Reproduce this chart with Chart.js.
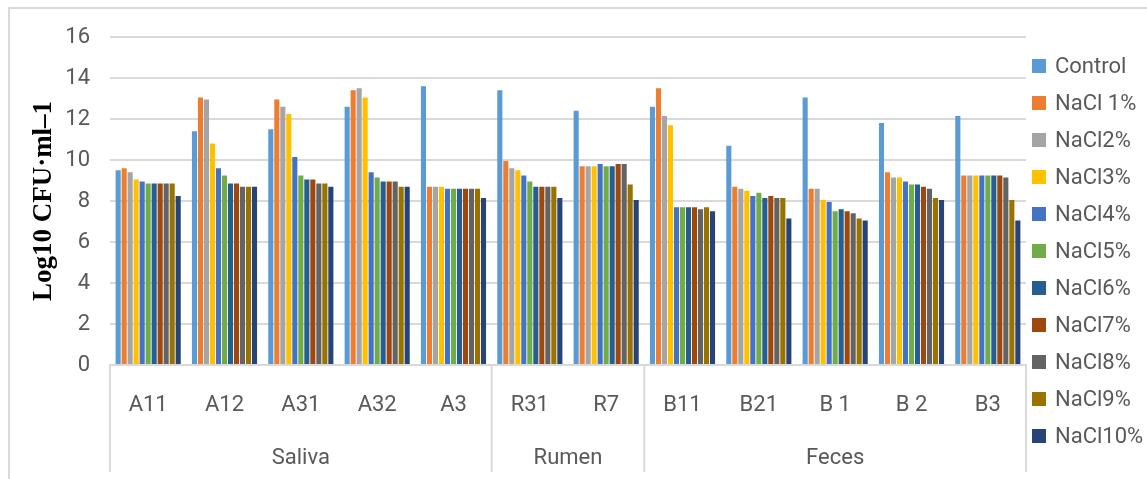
<!DOCTYPE html>
<html>
<head>
<meta charset="utf-8">
<script src="https://cdn.jsdelivr.net/npm/chart.js@4/dist/chart.umd.min.js"></script>
<style>
  html, body { margin: 0; padding: 0; background: #fff; }
  canvas { display: block; }
</style>
</head>
<body>
<canvas id="chart" width="1147" height="479"></canvas>
<script>
// Isolates by sample source
const categories = ['A11', 'A12', 'A31', 'A32', 'A3', 'R31', 'R7', 'B11', 'B21', 'B 1', 'B 2', 'B3'];
const groupNames = ['Saliva', 'Rumen', 'Feces'];
const groupSizes = [5, 2, 5];

// Viable counts (log10 CFU/ml) per salt level
const seriesNames = ['Control', 'NaCl 1%', 'NaCl2%', 'NaCl3%', 'NaCl4%', 'NaCl5%', 'NaCl6%', 'NaCl7%', 'NaCl8%', 'NaCl9%', 'NaCl10%'];
const control = [9.5, 11.4, 11.5, 12.6, 13.6, 13.4, 12.4, 12.6, 10.7, 13.05, 11.8, 12.15];
const nacl1   = [9.6, 13.05, 12.95, 13.4, 8.7, 9.95, 9.7, 13.5, 8.7, 8.6, 9.4, 9.25];
const nacl2   = [9.4, 12.95, 12.6, 13.5, 8.7, 9.6, 9.7, 12.15, 8.6, 8.6, 9.15, 9.25];
const nacl3   = [9.05, 10.8, 12.25, 13.05, 8.7, 9.5, 9.7, 11.7, 8.5, 8.05, 9.15, 9.25];
const nacl4   = [8.95, 9.6, 10.15, 9.4, 8.6, 9.25, 9.8, 7.7, 8.25, 7.95, 8.95, 9.25];
const nacl5   = [8.85, 9.25, 9.25, 9.15, 8.6, 8.95, 9.7, 7.7, 8.4, 7.5, 8.8, 9.25];
const nacl6   = [8.85, 8.85, 9.05, 8.95, 8.6, 8.7, 9.7, 7.7, 8.15, 7.6, 8.8, 9.25];
const nacl7   = [8.85, 8.85, 9.05, 8.95, 8.6, 8.7, 9.8, 7.7, 8.25, 7.5, 8.7, 9.25];
const nacl8   = [8.85, 8.7, 8.85, 8.95, 8.6, 8.7, 9.8, 7.6, 8.15, 7.4, 8.6, 9.15];
const nacl9   = [8.85, 8.7, 8.85, 8.7, 8.6, 8.7, 8.8, 7.7, 8.15, 7.15, 8.15, 8.05];
const nacl10  = [8.25, 8.7, 8.7, 8.7, 8.15, 8.15, 8.05, 7.5, 7.15, 7.05, 8.05, 7.05];
const seriesValues = [control, nacl1, nacl2, nacl3, nacl4, nacl5, nacl6, nacl7, nacl8, nacl9, nacl10];

const yMin = 0, yMax = 16, yStep = 2;

const seriesColors = ['#5B9BD5', '#ED7D31', '#A5A5A5', '#FFC000', '#4472C4', '#70AD47',
                      '#255E91', '#9E480E', '#636363', '#997300', '#264478'];

const SANS = "Roboto, 'Liberation Sans', sans-serif";
const TEXT = '#595959';
const LINE = '#D9D9D9';

// Frame, group separators, group names and legend
const decorations = {
  id: 'decorations',
  afterDraw(chart) {
    const { ctx, chartArea: a, scales: { x } } = chart;
    ctx.save();
    ctx.strokeStyle = LINE;
    ctx.lineWidth = 2;

    ctx.beginPath();
    ctx.moveTo(9, chart.height);
    ctx.lineTo(9, 8);
    ctx.lineTo(chart.width, 8);
    ctx.stroke();

    const edges = [a.left];
    let idx = 0;
    groupSizes.forEach(n => {
      idx += n;
      edges.push(idx < categories.length
        ? (x.getPixelForValue(idx - 1) + x.getPixelForValue(idx)) / 2
        : a.right);
    });
    edges.forEach(px => {
      ctx.beginPath();
      ctx.moveTo(px, a.bottom);
      ctx.lineTo(px, 472);
      ctx.stroke();
    });

    ctx.fillStyle = TEXT;
    ctx.font = `22px ${SANS}`;
    ctx.textAlign = 'center';
    ctx.textBaseline = 'middle';
    groupNames.forEach((g, i) => ctx.fillText(g, (edges[i] + edges[i + 1]) / 2, 458));

    ctx.textAlign = 'left';
    chart.data.datasets.forEach((ds, i) => {
      const y = 66 + 37 * i;
      ctx.fillStyle = ds.backgroundColor;
      ctx.fillRect(1032, y - 7, 14, 14);
      ctx.fillStyle = TEXT;
      ctx.fillText(ds.label, 1055, y + 1);
    });
    ctx.restore();
  }
};

new Chart(document.getElementById('chart'), {
  type: 'bar',
  data: {
    labels: categories,
    datasets: seriesNames.map((name, i) => ({
      label: name,
      data: seriesValues[i],
      backgroundColor: seriesColors[i],
      borderWidth: 0,
      categoryPercentage: 0.865,
      barPercentage: 0.85
    }))
  },
  options: {
    responsive: false,
    animation: false,
    devicePixelRatio: 1,
    layout: { padding: { left: 9, right: 121, top: 37, bottom: 10 } },
    plugins: { legend: { display: false }, tooltip: { enabled: false } },
    scales: {
      x: {
        offset: true,
        grid: { display: false, drawTicks: false },
        border: { display: true, color: LINE, width: 2 },
        ticks: { font: { family: SANS, size: 22 }, color: TEXT, padding: 27, maxRotation: 0, autoSkip: false },
        afterFit(s) { s.height = 104; }
      },
      y: {
        min: yMin,
        max: yMax,
        ticks: { stepSize: yStep, padding: 20, font: { family: SANS, size: 22 }, color: TEXT },
        grid: { color: LINE, lineWidth: 2, drawTicks: false },
        border: { display: false },
        title: {
          display: true,
          text: 'Log10 CFU·ml–1',
          font: { family: "'Liberation Serif', 'Times New Roman', serif", size: 27, weight: 'bold' },
          color: '#000',
          padding: { top: 19, bottom: 0 }
        },
        afterFit(s) { s.width = 101; }
      }
    }
  },
  plugins: [decorations]
});
</script>
</body>
</html>
